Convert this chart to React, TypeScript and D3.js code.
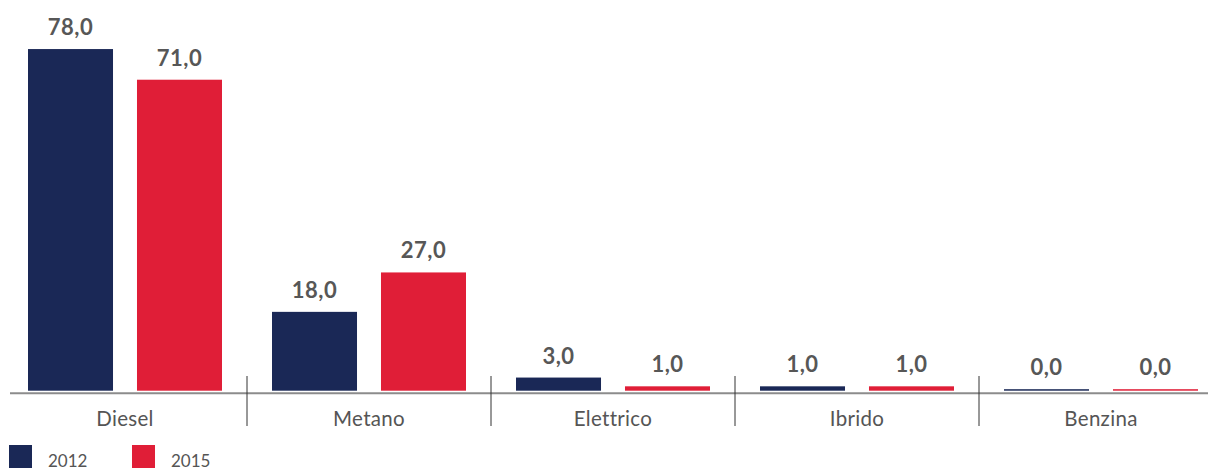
import React from "react";
import * as d3 from "d3";

const categories = ["Diesel", "Metano", "Elettrico", "Ibrido", "Benzina"];
const seriesNames = ["2012", "2015"];
const values2012 = [78, 18, 3, 1, 0];
const values2015 = [71, 27, 1, 1, 0];
const colors = ["#1a2856", "#e01e37"];

const W = 1208;
const H = 468;
const baseY = 390.7;
const axisY = 393.3;

export default function App() {
  const x0 = d3.scaleBand<string>().domain(categories).range([3, 1223]).paddingInner(0).paddingOuter(0);
  const x1 = d3.scaleBand<string>().domain(seriesNames).range([-97, 97]).paddingInner(0.22);
  const y = d3.scaleLinear().domain([0, 80]).range([baseY, baseY - 80 * 4.38]);
  const series = [values2012, values2015];
  const fmt = (v: number) => d3.format(".1f")(v).replace(".", ",");
  const font = "Lato, 'Open Sans', sans-serif";

  return (
    <svg width={W} height={H} style={{ position: "absolute", left: 0, top: 0 }} fontFamily={font}>
      {categories.map((c, i) => {
        const cx = (x0(c) as number) + x0.bandwidth() / 2;
        return (
          <g key={c}>
            {series.map((vals, s) => {
              const v = vals[i];
              const top = y(v);
              const h = Math.max(baseY - top, 1.5);
              const bx = cx + (x1(seriesNames[s]) as number);
              return (
                <g key={s}>
                  <rect x={bx} y={baseY - h} width={x1.bandwidth()} height={h} fill={colors[s]} />
                  <text
                    x={bx + x1.bandwidth() / 2}
                    y={baseY - h - 14}
                    textAnchor="middle"
                    fontSize={22}
                    fontWeight={700}
                    fill="#575757"
                    letterSpacing={0.5}
                  >
                    {fmt(v)}
                  </text>
                </g>
              );
            })}
            <text x={cx} y={426} textAnchor="middle" fontSize={20.5} fill="#555" letterSpacing={0.3}>
              {c}
            </text>
          </g>
        );
      })}
      <line x1={10} x2={W} y1={axisY} y2={axisY} stroke="#8c8c8c" strokeWidth={2} />
      {categories.slice(1).map((c) => (
        <line key={c} x1={x0(c)} x2={x0(c)} y1={376} y2={426} stroke="#333" strokeWidth={1} />
      ))}
      {seriesNames.map((s, i) => (
        <g key={s} transform={`translate(${9 + i * 123},445)`}>
          <rect x={0} y={0} width={23} height={23} fill={colors[i]} />
          <text x={39} y={22} fontSize={17} fill="#555">
            {s}
          </text>
        </g>
      ))}
    </svg>
  );
}
